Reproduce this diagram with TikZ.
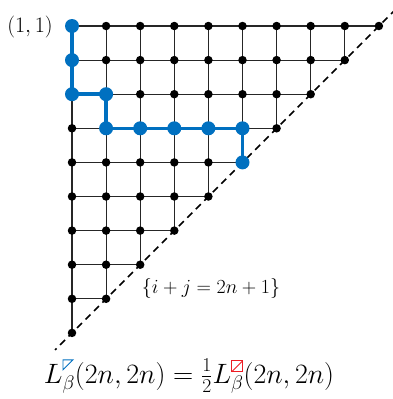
\RequirePackage{fix-cm}
\documentclass[tikz,border=0pt]{standalone}
\usetikzlibrary{calc}
\definecolor{pathblue}{RGB}{0,112,192}
\definecolor{sqred}{RGB}{237,28,36}
\pgfdeclarelayer{background}
\pgfsetlayers{background,main}
\newcommand\bluetri{\tikz[baseline=-3pt,x=1pt,y=1pt]\draw[pathblue,line width=0.9pt,line join=miter] (0,0)--(0,10)--(10,10)--cycle;}
\newcommand\redsq{\tikz[baseline=-1pt,x=1pt,y=1pt]{\draw[sqred,line width=0.9pt] (0,0) rectangle (11,11); \draw[sqred,line width=0.9pt] (0,0)--(11,11);}}
\begin{document}
\begin{tikzpicture}[x=1pt,y=-1pt,
  dot/.style={circle,fill=black,inner sep=0pt,minimum size=8.5pt},
  gridline/.style={line width=1.1pt,black!85},
  bluepath/.style={pathblue,line width=3.6pt},
  diagline/.style={line width=1.6pt,dash pattern=on 7pt off 5pt},
  labelfont/.style={font=\fontsize{22}{26}\selectfont},
  diagfont/.style={font=\fontsize{20}{24}\selectfont},
  formulafont/.style={font=\fontsize{28}{32}\selectfont}]
\useasboundingbox (0,0) rectangle (393,399);
\def\s{34.1}
\foreach \r in {0,...,9}{
  \pgfmathtruncatemacro\cmax{9-\r}
  \foreach \c in {0,...,\cmax}{
    \node[dot] (p-\c-\r) at ({72+\c*\s},{26+\r*\s}) {};
  }
}
\begin{pgfonlayer}{background}
\foreach \r in {0,...,8}{
  \pgfmathtruncatemacro\cmax{8-\r}
  \pgfmathtruncatemacro\rn{\r+1}
  \foreach \c in {0,...,\cmax}{
    \pgfmathtruncatemacro\cn{\c+1}
    \draw[gridline] (p-\c-\r.center) -- (p-\cn-\r.center);
    \draw[gridline] (p-\c-\r.center) -- (p-\c-\rn.center);
  }
}
\draw[diagline] ($(p-9-0.center)+(17,-17)$) -- ($(p-0-9.center)+(-17,17)$);
\end{pgfonlayer}
\draw[bluepath] (p-0-0.center) -- (p-0-1.center) -- (p-0-2.center) -- (p-1-2.center) -- (p-1-3.center) -- (p-2-3.center) -- (p-3-3.center) -- (p-4-3.center) -- (p-5-3.center) -- (p-5-4.center);
\foreach \n in {p-0-0,p-0-1,p-0-2,p-1-2,p-1-3,p-2-3,p-3-3,p-4-3,p-5-3,p-5-4}
  \fill[pathblue] (\n.center) circle (7pt);
\node[labelfont] (lab11) at (30,27) {$(1,1)$};
\node[diagfont] (diag) at (211,288) {$\{i+j=2n+1\}$};
\node[formulafont,anchor=base] (formula) at (189,383) {$L^{\bluetri}_{\beta}(2n,2n)=\frac12 L^{\redsq}_{\beta}(2n,2n)$};
\end{tikzpicture}
\end{document}
